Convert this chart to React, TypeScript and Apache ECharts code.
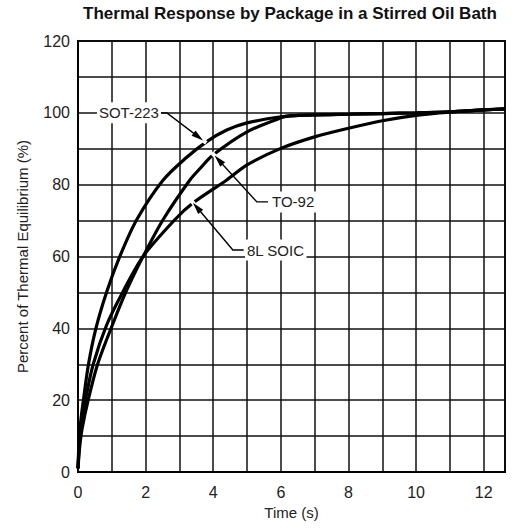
import React, { useEffect, useRef } from "react";
import * as echarts from "echarts";

const TITLE = "Thermal Response by Package in a Stirred Oil Bath";
const X_NAME = "Time (s)";
const Y_NAME = "Percent of Thermal Equilibrium (%)";

const sotT = [0, 0.03, 0.08, 0.16, 0.31, 0.53, 0.85, 1.24, 1.74, 2.52, 3.2, 3.81, 4.4, 5, 6, 7, 8, 9, 10, 11, 12, 12.63];
const sotV = [1, 8, 14, 20, 30, 40, 50.2, 60.1, 70.3, 81.3, 87.5, 92, 95.2, 97.2, 98.9, 99.4, 99.6, 99.8, 100, 100.3, 100.8, 101.1];

const to92T = [0, 0.05, 0.12, 0.3, 0.58, 1.02, 1.42, 1.93, 2.52, 3.31, 3.61, 4, 5, 6, 6.3, 7, 8, 9, 10, 11, 12, 12.63];
const to92V = [1, 7, 12, 20, 30, 41, 50.2, 60.1, 70.3, 81.3, 84.5, 88.3, 94.7, 98.6, 99.2, 99.4, 99.6, 99.8, 100, 100.3, 100.8, 101.1];

const soicT = [0, 0.04, 0.1, 0.22, 0.45, 0.85, 1.33, 1.93, 2.87, 3.39, 4.4, 5, 6, 7, 8, 9, 10, 11, 12, 12.63];
const soicV = [1, 8, 13, 20, 30, 41, 50.2, 60.1, 70.3, 74.8, 81.3, 85.5, 90.1, 93.3, 95.7, 97.8, 99.3, 100.2, 100.8, 101.1];

const X_MAX = 12.63;
const Y_MAX = 120;

// annotation labels, in data coordinates
const annLabels = ["SOT-223", "TO-92", "8L SOIC"];
const annTextAt = [[0.56, 100], [5.68, 75.2], [4.94, 61.8]];
const annFrom = [[2.43, 100], [5.62, 75.2], [4.9, 61.8]];
const annElbow = [[2.63, 100], [5.29, 75.2], [4.58, 61.8]];
const annTip = [[3.7, 92.3], [4.04, 88.1], [3.4, 75.0]];

const FONT = "'Liberation Sans', Arial, Helvetica, sans-serif";

function zip(a: number[], b: number[]) {
  return a.map((t, i) => [t, b[i]]);
}

export default function App() {
  const ref = useRef<HTMLDivElement>(null);
  useEffect(() => {
    document.body.style.margin = "0";
    const chart = echarts.init(ref.current!, null, { renderer: "svg" });
    const lineStyle = { color: "#000", width: 3.2 };
    const mkSeries = (name: string, data: number[][]) => ({
      name,
      type: "line",
      data,
      showSymbol: false,
      smooth: 0.3,
      lineStyle,
      z: 3,
    });
    chart.setOption({
      animation: false,
      backgroundColor: "#fff",
      title: {
        text: TITLE,
        left: 290,
        top: 5,
        textAlign: "center",
        padding: 0,
        textStyle: { fontFamily: FONT, fontSize: 17, fontWeight: "bold", color: "#111" },
      },
      grid: {
        left: 78,
        top: 41,
        width: 427,
        height: 431,
        show: true,
        borderColor: "#000",
        borderWidth: 2,
        backgroundColor: "transparent",
        containLabel: false,
      },
      xAxis: {
        type: "value",
        min: 0,
        max: X_MAX,
        interval: 1,
        name: X_NAME,
        nameLocation: "middle",
        nameGap: 23,
        nameTextStyle: { fontFamily: FONT, fontSize: 15, color: "#222" },
        axisLine: { show: true, lineStyle: { color: "#000", width: 2 } },
        axisTick: { show: false },
        splitLine: { show: true, lineStyle: { color: "#111", width: 1.5 } },
        axisLabel: {
          margin: 12,
          fontFamily: FONT,
          fontSize: 16,
          color: "#222",
          showMaxLabel: false,
          formatter: (v: number) => (Number.isInteger(v) && v % 2 === 0 ? String(v) : ""),
        },
      },
      yAxis: {
        type: "value",
        min: 0,
        max: Y_MAX,
        interval: 10,
        name: Y_NAME,
        nameLocation: "middle",
        nameGap: 48,
        nameTextStyle: { fontFamily: FONT, fontSize: 15, color: "#222" },
        axisLine: { show: true, lineStyle: { color: "#000", width: 2 } },
        axisTick: { show: false },
        splitLine: { show: true, lineStyle: { color: "#111", width: 1.5 } },
        axisLabel: {
          margin: 8,
          fontFamily: FONT,
          fontSize: 16,
          color: "#222",
          formatter: (v: number) => (v % 20 === 0 ? String(v) : ""),
        },
      },
      series: [
        mkSeries("SOT-223", zip(sotT, sotV)),
        mkSeries("TO-92", zip(to92T, to92V)),
        mkSeries("8L SOIC", zip(soicT, soicV)),
      ],
    });

    const px = (p: number[]) => chart.convertToPixel({ gridIndex: 0 }, p) as number[];
    const graphics: any[] = [];
    annLabels.forEach((label, i) => {
      const from = px(annFrom[i]);
      const elbow = px(annElbow[i]);
      const tip = px(annTip[i]);
      const tAt = px(annTextAt[i]);
      const dx = tip[0] - elbow[0];
      const dy = tip[1] - elbow[1];
      const len = Math.hypot(dx, dy);
      const ux = dx / len;
      const uy = dy / len;
      const nx = -uy;
      const ny = ux;
      const L = 12;
      const W = 6.5;
      const bx = tip[0] - ux * L;
      const by = tip[1] - uy * L;
      // white halo breaking the curve where the arrow points
      graphics.push({
        type: "line",
        z: 50,
        shape: { x1: tip[0] - ux * 8, y1: tip[1] - uy * 8, x2: tip[0] + ux * 4, y2: tip[1] + uy * 4 },
        style: { stroke: "#fff", lineWidth: 4 },
      });
      graphics.push({
        type: "polyline",
        z: 51,
        shape: { points: [from, elbow, [bx + ux * 2, by + uy * 2]] },
        style: { stroke: "#000", lineWidth: 1.4, fill: null },
      });
      graphics.push({
        type: "polygon",
        z: 52,
        shape: {
          points: [
            [tip[0], tip[1]],
            [bx + nx * W / 2, by + ny * W / 2],
            [bx - nx * W / 2, by - ny * W / 2],
          ],
        },
        style: { fill: "#000" },
      });
      graphics.push({
        type: "text",
        z: 53,
        x: tAt[0],
        y: tAt[1],
        style: {
          text: label,
          font: `15px ${FONT}`,
          fill: "#222",
          align: "left",
          verticalAlign: "middle",
          backgroundColor: "#fff",
          padding: [3, 2, 3, 2],
        },
      });
    });
    chart.setOption({ graphic: graphics });

    return () => chart.dispose();
  }, []);
  return <div ref={ref} style={{ width: 512, height: 530 }} />;
}
